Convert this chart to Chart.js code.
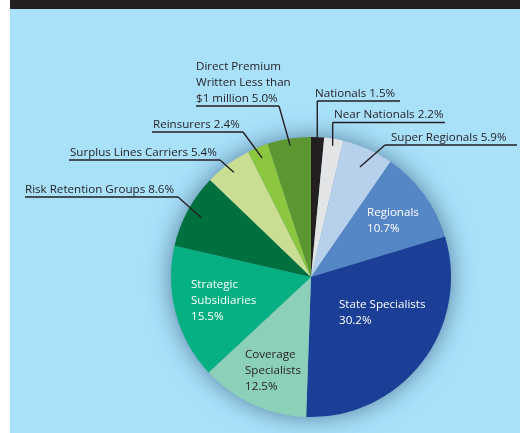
<!DOCTYPE html>
<html lang="en">
<head>
  <meta charset="UTF-8" />
  <title>Market Share by Company Type</title>
  <script src="https://cdn.jsdelivr.net/npm/chart.js"></script>
  <style>
    body { margin: 0; background: #ffffff; }
    canvas { display: block; }
  </style>
</head>
<body>
  <canvas id="pieChart" width="532" height="433"></canvas>

  <script>
    // data (percent share)
    const categories = [
      "Nationals",
      "Near Nationals",
      "Super Regionals",
      "Regionals",
      "State Specialists",
      "Coverage\nSpecialists",
      "Strategic\nSubsidiaries",
      "Risk Retention Groups",
      "Surplus Lines Carriers",
      "Reinsurers",
      "Direct Premium\nWritten Less than\n$1 million"
    ];
    const shares = [1.5, 2.2, 5.9, 10.7, 30.2, 12.5, 15.5, 8.6, 5.4, 2.4, 5.0];
    const sliceColors = [
      "#231f20", "#e3e4e6", "#b7d1ec", "#5586c6", "#1b3f97",
      "#8dd0b9", "#06b083", "#00703f", "#cade93", "#8dc63f", "#5c9732"
    ];

    // where each label sits (outside labels get a leader line + underline)
    const labelLayout = [
      { mode: "out", x: 315, y: 97,  lineY: 101, x1: null, x2: 400, elbow: "vertical" },
      { mode: "out", x: 334, y: 118, lineY: 122.5, x1: null, x2: 445, elbow: "vertical" },
      { mode: "out", x: 391, y: 141, lineY: 145, x1: 385, x2: 517, elbow: [385, 145], r: 0.86 },
      { mode: "in",  x: 367, y: 216, color: "#ffffff" },
      { mode: "in",  x: 339, y: 308, color: "#ffffff" },
      { mode: "in",  x: 245, y: 358, color: "#231f20" },
      { mode: "in",  x: 191, y: 288, color: "#ffffff" },
      { mode: "out", x: 25,  y: 193, lineY: 197, x1: 25,  x2: 178, elbow: [178, 197], r: 0.89 },
      { mode: "out", x: 70,  y: 156, lineY: 160, x1: 69,  x2: 220, elbow: [220, 160], r: 0.93 },
      { mode: "out", x: 153, y: 128, lineY: 132, x1: 152, x2: 243, elbow: [243, 132], r: 0.92 },
      { mode: "out", x: 196, y: 70,  lineY: 106, x1: 196, x2: 279, elbow: [279, 106], r: 0.95 }
    ];

    const FONT = "11.6px 'Open Sans'";
    const LINE_H = 16;

    const panelPlugin = {
      id: "panel",
      beforeDraw(chart) {
        const c = chart.ctx;
        c.save();
        c.fillStyle = "#ffffff";
        c.fillRect(0, 0, chart.width, chart.height);
        c.fillStyle = "#a9e0fa";
        c.fillRect(10, 9, 510, chart.height - 9);
        c.fillStyle = "#231f20";
        c.fillRect(10, 0, 510, 9);
        c.restore();
      },
      beforeDatasetsDraw(chart) {
        // soft shadow behind the pie
        const arc = chart.getDatasetMeta(0).data[0];
        const c = chart.ctx;
        c.save();
        c.shadowColor = "rgba(20, 50, 80, 0.6)";
        c.shadowBlur = 24;
        c.fillStyle = "#6f9fb8";
        c.beginPath();
        c.arc(arc.x, arc.y, arc.outerRadius - 1, 0, Math.PI * 2);
        c.fill();
        c.restore();
      },
      afterDatasetsDraw(chart) {
        const c = chart.ctx;
        const meta = chart.getDatasetMeta(0);
        c.save();
        c.font = FONT;
        c.textBaseline = "alphabetic";
        c.textAlign = "left";
        meta.data.forEach((arc, i) => {
          const L = labelLayout[i];
          const pct = shares[i].toFixed(1) + "%";
          if (L.mode === "in") {
            const lines = (categories[i] + "\n" + pct).split("\n");
            c.fillStyle = L.color;
            lines.forEach((t, k) => c.fillText(t, L.x, L.y + k * LINE_H));
            return;
          }
          const lines = (categories[i] + " " + pct).split("\n");
          c.fillStyle = "#231f20";
          lines.forEach((t, k) => c.fillText(t, L.x, L.y + k * LINE_H));

          const mid = (arc.startAngle + arc.endAngle) / 2;
          const rr = arc.outerRadius * (L.r || 0.95);
          const ax = arc.x + Math.cos(mid) * rr;
          const ay = arc.y + Math.sin(mid) * rr;
          let ex, ey, x1 = L.x1;
          if (L.elbow === "vertical") {
            ex = ax; ey = L.lineY; x1 = ax;
          } else {
            ex = L.elbow[0]; ey = L.elbow[1];
          }
          c.strokeStyle = "#231f20";
          c.lineWidth = 1.4;
          c.beginPath();
          c.moveTo(x1, L.lineY);
          c.lineTo(L.x2, L.lineY);
          c.stroke();
          c.beginPath();
          c.moveTo(ex, ey);
          c.lineTo(ax, ay);
          c.stroke();
        });
        c.restore();
      }
    };

    const ctx = document.getElementById("pieChart").getContext("2d");
    const pieChart = new Chart(ctx, {
      type: "pie",
      data: {
        labels: categories.map(s => s.replace(/\n/g, " ")),
        datasets: [{
          data: shares,
          backgroundColor: sliceColors,
          borderWidth: 0
        }]
      },
      options: {
        responsive: false,
        animation: false,
        rotation: 0,
        layout: { padding: { top: 137, bottom: 16, left: 171, right: 81 } },
        plugins: {
          legend: { display: false },
          tooltip: { enabled: false }
        }
      },
      plugins: [panelPlugin]
    });
  </script>
</body>
</html>
